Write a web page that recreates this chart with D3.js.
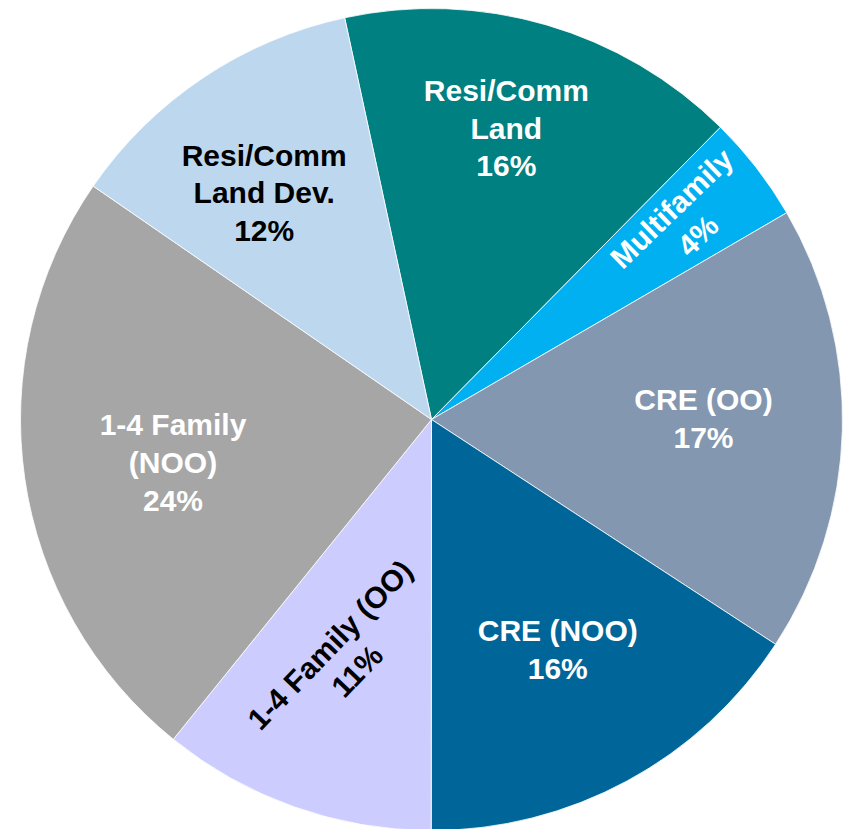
<!DOCTYPE html>
<html>
<head>
<meta charset="utf-8">
<script src="https://cdn.jsdelivr.net/npm/d3@7"></script>
<style>
    html, body { margin: 0; padding: 0; background: #fff; }
    svg { display: block; }
    .slice-label {
        font-family: "Liberation Sans", Arial, sans-serif;
        font-weight: bold;
        font-size: 30px;
    }
</style>
</head>
<body>
<div id="chart"></div>
<script>
    // Slices, clockwise starting just left of twelve o'clock.
const categories = ["Resi/Comm Land", "Multifamily", "CRE (OO)", "CRE (NOO)", "1-4 Family (OO)", "1-4 Family (NOO)", "Resi/Comm Land Dev."];
const shares = [15.8, 4.2, 17.6, 15.8, 10.8, 23.8, 12.0];
const shareLabels = ["16%", "4%", "17%", "16%", "11%", "24%", "12%"];
const nameLines = [
    ["Resi/Comm", "Land"],
    ["Multifamily"],
    ["CRE (OO)"],
    ["CRE (NOO)"],
    ["1-4 Family (OO)"],
    ["1-4 Family", "(NOO)"],
    ["Resi/Comm", "Land Dev."]
];
const colors = ["#008080", "#00B0F0", "#8497B0", "#006699", "#CCCCFF", "#A6A6A6", "#BDD7EE"];
const textColors = ["#fff", "#fff", "#fff", "#fff", "#000", "#fff", "#000"];

function drawChart() {
    const width = 846;
    const height = 829;
    const cx = 431.5;
    const cy = 419.5;
    const radius = 411;
    const deg = Math.PI / 180;
    const startAngle = -12.2 * deg;

        // Where each label block sits: distance from centre, angle from 12 o'clock, text rotation.
    const labelLayout = [
        { r: 301, a: 14.4, rot: 0 },
        { r: 321, a: 52, rot: -44 },
        { r: 272, a: 89.7, rot: 0 },
        { r: 262, a: 151.2, rot: 0 },
        { r: 254, a: 200.3, rot: -46 },
        { r: 262, a: 260.6, rot: 0 },
        { r: 282, a: 323.6, rot: 0 }
    ];
    const lineHeight = 37.7;

    const svg = d3.select("#chart")
        .append("svg")
        .attr("width", width)
        .attr("height", height)
        .attr("viewBox", `0 0 ${width} ${height}`);

    const g = svg.append("g")
        .attr("transform", `translate(${cx}, ${cy})`);

    const data = categories.map((c, i) => ({
        name: c,
        value: shares[i],
        lines: nameLines[i].concat([shareLabels[i]]),
        color: colors[i],
        textColor: textColors[i],
        layout: labelLayout[i]
    }));

    const pie = d3.pie()
        .sort(null)
        .value(d => d.value)
        .startAngle(startAngle)
        .endAngle(startAngle + 2 * Math.PI);

    const arc = d3.arc()
        .innerRadius(0)
        .outerRadius(radius);

    const arcs = pie(data);

    g.selectAll(".slice")
        .data(arcs)
        .join("path")
        .attr("class", "slice")
        .attr("d", arc)
        .attr("fill", d => d.data.color)
        .attr("stroke", "#fff")
        .attr("stroke-width", 0.8)
        .attr("stroke-linejoin", "round");

        // Label groups, each centred on its block and optionally rotated.
    const labels = g.selectAll(".label")
        .data(arcs)
        .join("g")
        .attr("class", "label")
        .attr("transform", d => {
            const L = d.data.layout;
            const x = L.r * Math.sin(L.a * deg);
            const y = -L.r * Math.cos(L.a * deg);
            return `translate(${x}, ${y}) rotate(${L.rot})`;
        });

    labels.selectAll("text")
        .data(d => d.data.lines.map((t, i, all) => ({ t, i, n: all.length, color: d.data.textColor })))
        .join("text")
        .attr("class", "slice-label")
        .attr("text-anchor", "middle")
        .attr("x", 0)
        .attr("y", d => (d.i - (d.n - 1) / 2) * lineHeight + 10.7)
        .attr("fill", d => d.color)
        .text(d => d.t);
}

drawChart();
</script>
</body>
</html>
